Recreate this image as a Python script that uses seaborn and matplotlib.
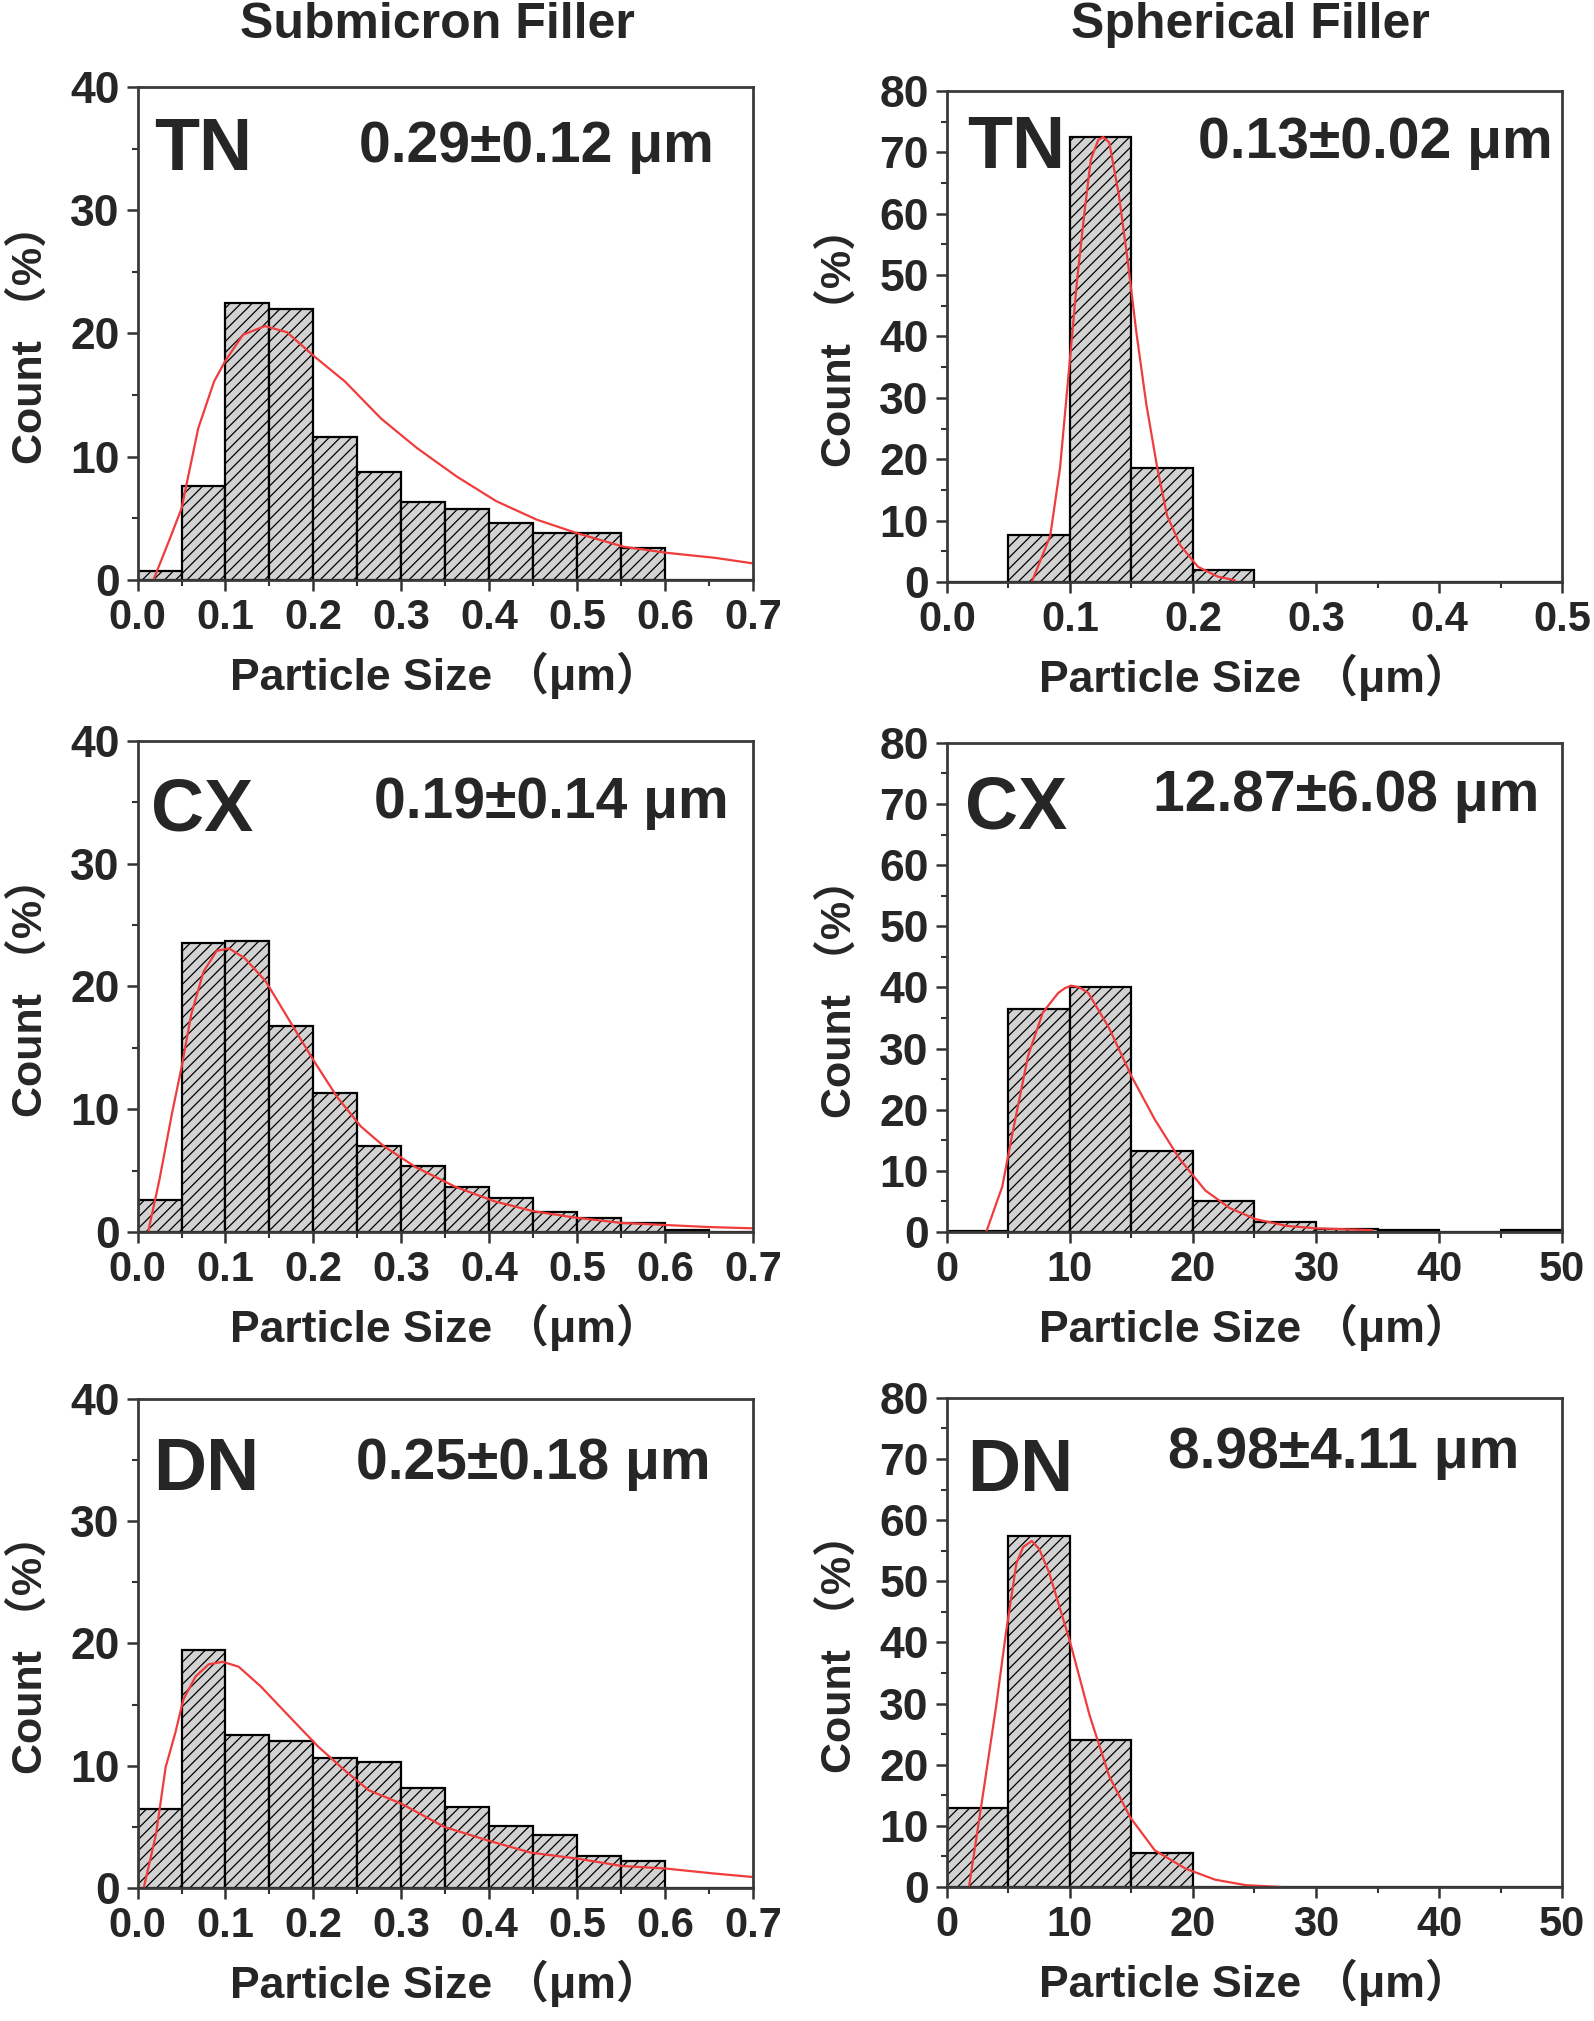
import numpy as np
import pandas as pd
import seaborn as sns
import matplotlib.pyplot as plt
from matplotlib.ticker import MultipleLocator

sns.set_style("white")
plt.rcParams['font.family'] = ['Liberation Sans', 'Noto Sans CJK SC', 'DejaVu Sans']
plt.rcParams['font.weight'] = 'bold'
plt.rcParams['hatch.linewidth'] = 0.9

# ---- submicron filler (bins of 0.05 um) ----
sub_edges = np.round(np.arange(0, 0.70001, 0.05), 3)
tn_sub = [0.7, 7.6, 22.5, 22.0, 11.6, 8.8, 6.3, 5.8, 4.6, 3.8, 3.8, 2.6, 0, 0]
cx_sub = [2.6, 23.5, 23.7, 16.8, 11.3, 7.0, 5.4, 3.7, 2.8, 1.6, 1.1, 0.7, 0.2, 0]
dn_sub = [6.5, 19.5, 12.5, 12.0, 10.6, 10.3, 8.2, 6.6, 5.1, 4.3, 2.6, 2.2, 0, 0]

# fitted curves
tn_sub_fx = [0.018, 0.037, 0.05, 0.069, 0.087, 0.1, 0.12, 0.145, 0.17, 0.2, 0.236, 0.277,
             0.318, 0.363, 0.408, 0.454, 0.5, 0.553, 0.603, 0.657, 0.7]
tn_sub_fy = [0.0, 3.4, 5.8, 12.3, 16.1, 17.8, 19.9, 20.6, 20.1, 18.2, 16.1, 13.1,
             10.7, 8.4, 6.4, 4.9, 3.8, 2.7, 2.2, 1.8, 1.35]
cx_sub_fx = [0.012, 0.025, 0.039, 0.05, 0.061, 0.075, 0.09, 0.104, 0.122, 0.146, 0.173, 0.2,
             0.227, 0.254, 0.28, 0.316, 0.361, 0.406, 0.45, 0.495, 0.549, 0.6, 0.652, 0.7]
cx_sub_fy = [0.0, 4.3, 9.6, 13.4, 17.7, 21.2, 22.9, 23.1, 22.3, 20.4, 17.2, 14.0,
             11.0, 8.6, 7.0, 5.3, 3.7, 2.5, 1.7, 1.2, 0.75, 0.57, 0.4, 0.3]
dn_sub_fx = [0.007, 0.021, 0.032, 0.043, 0.052, 0.066, 0.081, 0.097, 0.115, 0.14, 0.173, 0.205,
             0.236, 0.263, 0.3, 0.349, 0.398, 0.447, 0.501, 0.551, 0.6, 0.654, 0.7]
dn_sub_fy = [0.0, 4.4, 9.9, 12.7, 15.4, 17.3, 18.3, 18.5, 18.1, 16.5, 14.0, 11.6,
             9.6, 8.0, 6.9, 5.0, 3.9, 2.9, 2.4, 1.8, 1.6, 1.2, 0.9]

# ---- spherical filler ----
tn_sph_edges = np.round(np.arange(0, 0.50001, 0.05), 3)
tn_sph = [0, 7.6, 72.5, 18.6, 2.0, 0, 0, 0, 0, 0]
tn_sph_fx = [0.069, 0.084, 0.092, 0.099, 0.106, 0.112, 0.117, 0.123, 0.127, 0.132, 0.14, 0.147,
             0.154, 0.162, 0.171, 0.179, 0.19, 0.204, 0.22, 0.234]
tn_sph_fy = [0.0, 7.5, 18.6, 34.0, 49.5, 60.5, 68.8, 72.0, 72.5, 71.6, 62.8, 52.3,
             40.7, 29.1, 18.6, 10.8, 5.9, 2.5, 0.9, 0.3]

um_edges = np.arange(0, 51, 5)
cx_sph = [0.2, 36.4, 40.1, 13.3, 5.0, 1.7, 0.5, 0.4, 0, 0.4]
cx_sph_fx = [3.2, 4.5, 5.3, 6.6, 7.8, 9.05, 9.6, 10.1, 10.8, 11.5, 13.2, 15.0, 16.9, 18.9,
             21.0, 23.0, 25.1, 27.6, 30.0, 34.6]
cx_sph_fy = [0.0, 7.4, 15.8, 28.8, 35.9, 39.1, 39.9, 40.3, 40.0, 39.1, 33.3, 25.5, 18.4, 12.0,
             6.8, 3.9, 2.1, 1.0, 0.6, 0.3]
dn_sph = [13.0, 57.4, 24.1, 5.5, 0, 0, 0, 0, 0, 0]
dn_sph_fx = [1.8, 3.0, 4.0, 4.8, 5.65, 6.2, 6.9, 7.5, 8.3, 10.0, 11.6, 13.2, 14.9, 16.9,
             19.4, 21.8, 24.3, 27.2]
dn_sph_fy = [0.0, 16.0, 29.5, 41.5, 52.9, 55.6, 56.6, 55.3, 51.5, 40.2, 28.1, 18.1, 11.4, 6.0,
             3.0, 1.2, 0.3, 0.0]

panels = [
    # (label, stat, edges, heights, fit x, fit y, xmax, xstep, ymax)
    ("TN", "0.29\u00b10.12 \u03bcm", sub_edges, tn_sub, tn_sub_fx, tn_sub_fy, 0.7, 0.1, 40),
    ("TN", "0.13\u00b10.02 \u03bcm", tn_sph_edges, tn_sph, tn_sph_fx, tn_sph_fy, 0.5, 0.1, 80),
    ("CX", "0.19\u00b10.14 \u03bcm", sub_edges, cx_sub, cx_sub_fx, cx_sub_fy, 0.7, 0.1, 40),
    ("CX", "12.87\u00b16.08 \u03bcm", um_edges, cx_sph, cx_sph_fx, cx_sph_fy, 50, 10, 80),
    ("DN", "0.25\u00b10.18 \u03bcm", sub_edges, dn_sub, dn_sub_fx, dn_sub_fy, 0.7, 0.1, 40),
    ("DN", "8.98\u00b14.11 \u03bcm", um_edges, dn_sph, dn_sph_fx, dn_sph_fy, 50, 10, 80),
]

# axes boxes in figure fractions [left, bottom, width, height]
boxes = [
    [0.0863, 0.713, 0.386, 0.244], [0.594, 0.712, 0.386, 0.243],
    [0.0863, 0.3904, 0.386, 0.243], [0.594, 0.3904, 0.386, 0.242],
    [0.0863, 0.0658, 0.386, 0.242], [0.594, 0.0663, 0.386, 0.242],
]
label_pos = [(0.027, 0.832), (0.033, 0.844), (0.022, 0.817), (0.029, 0.824), (0.026, 0.813), (0.033, 0.81)]
stat_pos = [(0.937, 0.848), (0.985, 0.863), (0.96, 0.842), (0.963, 0.861), (0.931, 0.836), (0.93, 0.857)]

fig = plt.figure(figsize=(15.94, 20.21), dpi=100)

for i, (lab, stat, edges, h, fx, fy, xmax, xstep, ymax) in enumerate(panels):
    ax = fig.add_axes(boxes[i])
    edges = np.asarray(edges, dtype=float)
    centers = (edges[:-1] + edges[1:]) / 2
    df = pd.DataFrame({"x": centers, "w": h})
    df = df[df["w"] > 0]
    bw = float(edges[1] - edges[0])
    sns.histplot(data=df, x="x", weights="w", binwidth=bw,
                 binrange=(float(edges[0]), float(edges[-1])), ax=ax,
                 color="#d2d2d2", edgecolor="black", linewidth=1.6, alpha=1)
    for p in ax.patches:
        p.set_hatch("///")
    sns.lineplot(x=fx, y=fy, ax=ax, color="#f03c3c", linewidth=1.6, sort=False)

    ax.set_xlim(0, xmax)
    ax.set_ylim(0, ymax)
    ax.xaxis.set_major_locator(MultipleLocator(xstep))
    ax.xaxis.set_minor_locator(MultipleLocator(xstep / 2))
    ax.yaxis.set_major_locator(MultipleLocator(10))
    ax.yaxis.set_minor_locator(MultipleLocator(5))
    if xstep < 1:
        ax.set_xticklabels([f"{v:.1f}" for v in ax.get_xticks()])
    ax.tick_params(which="major", direction="out", length=8, width=1.8,
                   color="#333333", pad=5,
                   bottom=True, left=True, top=False, right=False)
    ax.tick_params(axis="x", labelsize=30)
    ax.tick_params(axis="y", labelsize=32)
    ax.tick_params(which="minor", direction="out", length=4, width=1.5,
                   color="#333333", bottom=True, left=True, top=False, right=False)
    for t in ax.get_xticklabels() + ax.get_yticklabels():
        t.set_fontweight("bold")
    for s in ax.spines.values():
        s.set_color("#3a3a3a")
        s.set_linewidth(2)

    ax.set_xlabel("Particle Size \uff08\u03bcm\uff09", fontsize=32, fontweight="bold", labelpad=10)
    ax.set_ylabel("Count \uff08%\uff09", fontsize=31, fontweight="bold", labelpad=14)

    ax.text(label_pos[i][0], label_pos[i][1], lab, transform=ax.transAxes,
            fontsize=53, fontweight="bold", ha="left", va="baseline")
    ax.text(stat_pos[i][0], stat_pos[i][1], stat, transform=ax.transAxes,
            fontsize=41, fontweight="bold", ha="right", va="baseline")

fig.text(437 / 1594, 1 - 38 / 2021, "Submicron Filler", fontsize=36, fontweight="bold",
         ha="center", va="baseline")
fig.text(1250 / 1594, 1 - 38 / 2021, "Spherical Filler", fontsize=36, fontweight="bold",
         ha="center", va="baseline")

fig.savefig("out.png", dpi=100, facecolor="white")
